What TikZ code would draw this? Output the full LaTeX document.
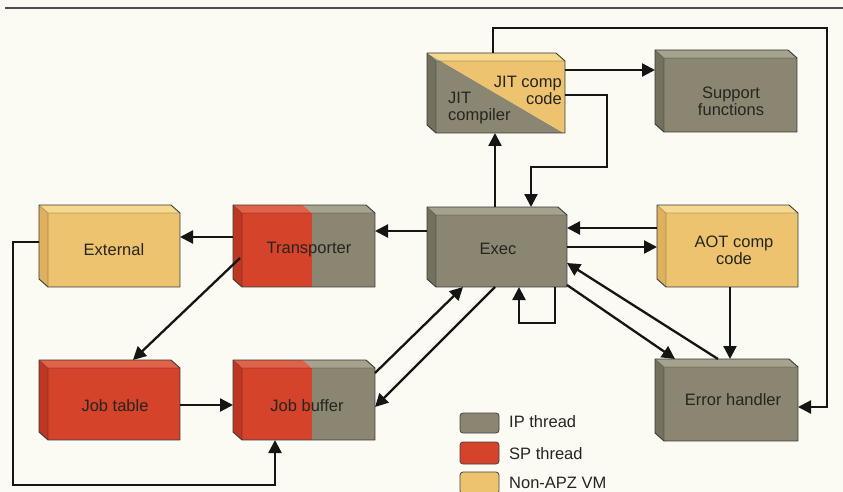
\documentclass[tikz,border=0pt]{standalone}
\usepackage{fontspec}
\setmainfont{Liberation Sans}
\usetikzlibrary{arrows.meta}
\definecolor{bgc}{HTML}{FBFBF4}
\definecolor{ipF}{HTML}{8A8671}
\definecolor{ipT}{HTML}{A5A28D}
\definecolor{ipS}{HTML}{73705D}
\definecolor{spF}{HTML}{D4432A}
\definecolor{spT}{HTML}{E06249}
\definecolor{spS}{HTML}{BD3822}
\definecolor{nvF}{HTML}{EEC36F}
\definecolor{nvT}{HTML}{F6D88F}
\definecolor{nvS}{HTML}{DFB05E}
\definecolor{ink}{HTML}{151513}
\definecolor{txtc}{HTML}{26251F}
\tikzset{
 arr/.style={draw=ink, line width=2.3pt, -{Triangle[length=13pt,width=13pt]}},
 outl/.style={draw=ink!85, line width=0.9pt, line join=round},
 crease/.style={draw=black, draw opacity=0.25, line width=0.6pt},
 boxn/.style={inner sep=0pt, outer sep=0pt, rectangle},
 lbl/.style={font=\fontsize{16.5}{17}\selectfont, text=txtc, inner sep=0pt, align=center},
 swatch/.style={draw=ink!80, line width=0.8pt, rounded corners=3pt, minimum width=39pt, inner sep=0pt},
}
% faces of a block: x1 y1 x2 y2 colourset
\newcommand\faces[5]{%
 \fill[#5F] (#1+9,#2+8) rectangle (#3,#4);
 \fill[#5T] (#1,#2) -- (#3-9,#2) -- (#3,#2+8) -- (#1+9,#2+8) -- cycle;
 \fill[#5S] (#1,#2) -- (#1+9,#2+8) -- (#1+9,#4) -- (#1,#4-8) -- cycle;
 \draw[crease] (#1,#2) -- (#1+9,#2+8) -- (#3,#2+8) (#1+9,#2+8) -- (#1+9,#4);
}
\newcommand\outl[4]{\draw[outl] (#1,#2) -- (#3-9,#2) -- (#3,#2+8) -- (#3,#4) -- (#1+9,#4) -- (#1,#4-8) -- cycle;}
\newcommand\cubenode[5]{\node[boxn, minimum width={#4-#2}, minimum height={#5-#3}] (#1) at ({(#2+#4)/2},{(#3+#5)/2}) {};}
% split block: x1 y1 x2 y2 split-x left-set right-set
\newcommand\splitfaces[7]{%
 \begin{scope}
 \clip (#1-1,#2-1) -- (#5-9,#2-1) -- (#5-9,#2) -- (#5,#2+8) -- (#5,#4+1) -- (#1-1,#4+1) -- cycle;
 \faces{#1}{#2}{#3}{#4}{#6}
 \end{scope}
 \begin{scope}
 \clip (#5-9,#2-1) -- (#3+1,#2-1) -- (#3+1,#4+1) -- (#5,#4+1) -- (#5,#2+8) -- (#5-9,#2) -- cycle;
 \faces{#1}{#2}{#3}{#4}{#7}
 \end{scope}
}
\begin{document}
\begin{tikzpicture}[x=1pt,y=-1pt]
\fill[bgc] (0,0) rectangle (843,492);
\useasboundingbox (0,0) rectangle (843,492);
\draw[draw=black!70, line width=1.3pt] (5,8) -- (843,8);

% JIT block (diagonal split)
\begin{scope}
 \clip (425,51) -- (427,53) -- (567,135) -- (425,135) -- cycle;
 \faces{427}{53}{565}{133}{ip}
\end{scope}
\begin{scope}
 \clip (427,53) -- (567,51) -- (567,135) -- cycle;
 \faces{427}{53}{565}{133}{nv}
\end{scope}
\outl{427}{53}{565}{133}
\cubenode{jit}{427}{53}{565}{133}
\node[lbl, align=right, anchor=east] (jit-code) at (562,90) {JIT comp\\code};
\node[lbl, align=left, anchor=west] (jit-comp) at (448,108) {JIT\\compiler};

% Support functions
\faces{655}{50}{797}{132}{ip}\outl{655}{50}{797}{132}
\cubenode{sup}{655}{50}{797}{132}
\node[lbl] (sup-t) at (731,101) {Support\\functions};

% External
\faces{39}{205}{180}{287}{nv}\outl{39}{205}{180}{287}
\cubenode{ext}{39}{205}{180}{287}
\node[lbl] (ext-t) at (114,250) {External};

% Transporter
\splitfaces{233}{205}{375}{287}{312}{sp}{ip}\outl{233}{205}{375}{287}
\cubenode{tra}{233}{205}{375}{287}
\node[lbl] (tra-t) at (309,250) {Transporter};

% Exec
\faces{427}{207}{567}{287}{ip}\outl{427}{207}{567}{287}
\cubenode{exe}{427}{207}{567}{287}
\node[lbl] (exe-t) at (498,249) {Exec};

% AOT comp code
\faces{657}{205}{798}{287}{nv}\outl{657}{205}{798}{287}
\cubenode{aot}{657}{205}{798}{287}
\node[lbl] (aot-t) at (734,250) {AOT comp\\code};

% Job table
\faces{39}{360}{180}{440}{sp}\outl{39}{360}{180}{440}
\cubenode{jtb}{39}{360}{180}{440}
\node[lbl] (jtb-t) at (115,406) {Job table};

% Job buffer
\splitfaces{233}{360}{375}{440}{312}{sp}{ip}\outl{233}{360}{375}{440}
\cubenode{jbf}{233}{360}{375}{440}
\node[lbl] (jbf-t) at (307,406) {Job buffer};

% Error handler
\faces{655}{359}{798}{441}{ip}\outl{655}{359}{798}{441}
\cubenode{err}{655}{359}{798}{441}
\node[lbl] (err-t) at (733,400) {Error handler};

% Legend
\node[swatch, fill=ipF, minimum height=20pt] (lg-ip) at (479.5,423) {};
\node[swatch, fill=spF, minimum height=22pt] (lg-sp) at (479.5,453) {};
\node[swatch, fill=nvF, minimum height=22pt] (lg-nv) at (479.5,483) {};
\node[lbl, anchor=west] (lg-ip-t) at (509,422) {IP thread};
\node[lbl, anchor=west] (lg-sp-t) at (509,454) {SP thread};
\node[lbl, anchor=west] (lg-nv-t) at (509,483) {Non-APZ VM};

% Connectors
\coordinate (c1) at (827,28);
\draw[arr] ([xshift=-3pt]jit.north) |- (c1) |- ([yshift=-7pt]err.east);
\draw[arr] ([yshift=23pt]jit.east) -- ([yshift=23pt]jit.east -| sup.west);
\coordinate (c2) at (607,167);
\draw[arr] ([yshift=-2pt]jit.east) -| (c2) -| ([xshift=34pt]exe.north);
\draw[arr] ([xshift=-2pt]exe.north) -- ([xshift=-2pt]exe.north |- jit.south);
\draw[arr] ([yshift=16pt]exe.west) -- ([yshift=16pt]exe.west -| tra.east);
\draw[arr] ([yshift=9pt]tra.west) -- ([yshift=9pt]tra.west -| ext.east);
\coordinate (c3) at (13,485);
\draw[arr] ([yshift=4pt]ext.west) -| (c3) -| ([xshift=-29pt]jbf.south);
\draw[arr] ([xshift=7pt,yshift=-12pt]tra.west) -- ([xshift=23.5pt]jtb.north);
\draw[arr] ([yshift=-5pt]jtb.east) -- ([yshift=-5pt]jtb.east -| jbf.west);
\draw[arr] ([yshift=27pt]jbf.east) -- ([xshift=-34pt]exe.south);
\draw[arr] ([xshift=-2pt]exe.south) -- ([yshift=-7pt]jbf.east);
\draw[arr] ([xshift=58pt]exe.south) -- ++(0,36) -| ([xshift=22pt]exe.south);
\draw[arr] ([yshift=18pt]aot.west) -- ([yshift=18pt]aot.west -| exe.east);
\draw[arr] (exe.east) -- (exe.east -| aot.west);
\draw[arr] ([xshift=-8.5pt]err.north) -- ([yshift=-16pt]exe.east);
\draw[arr] ([yshift=2pt]exe.south east) -- ([xshift=20pt]err.north west);
\draw[arr] ([xshift=2.5pt]aot.south) -- ([xshift=2.5pt]aot.south |- err.north);
\end{tikzpicture}
\end{document}
